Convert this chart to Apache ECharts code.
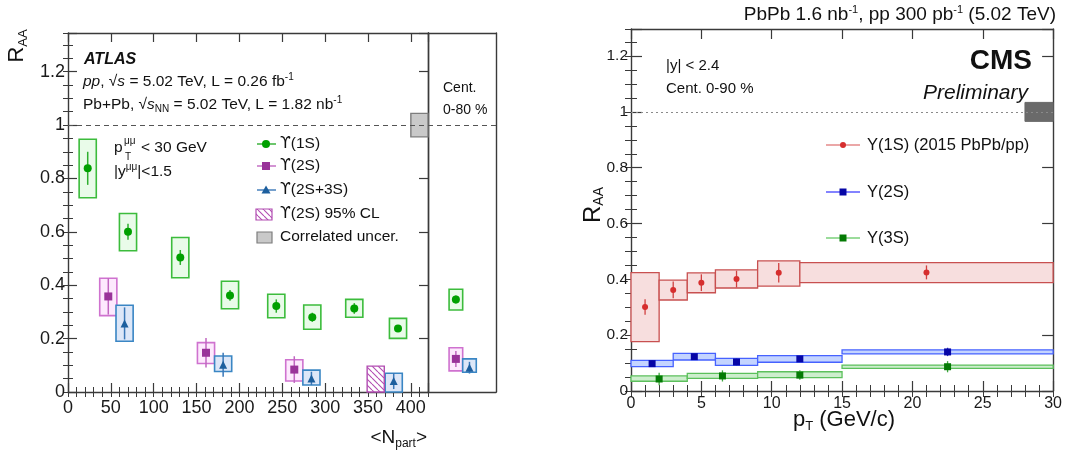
<!DOCTYPE html>
<html>
<head>
<meta charset="utf-8">
<script src="https://cdn.jsdelivr.net/npm/echarts/dist/echarts.min.js"></script>
<style>
html, body { margin: 0; padding: 0; background: #fff; }
#c { width: 1065px; height: 459px; }
</style>
</head>
<body>
<div id="c"></div>
<script>
// ---------- ATLAS: R_AA versus <Npart> ----------
const npart1S  = [23, 70, 131, 189, 243, 285, 334, 385];
const raa1S    = [0.838, 0.600, 0.504, 0.362, 0.322, 0.280, 0.313, 0.238];
const stat1S   = [0.062, 0.030, 0.028, 0.020, 0.025, 0.017, 0.020, 0.013];
const sysLo1S  = [0.728, 0.529, 0.428, 0.312, 0.278, 0.235, 0.280, 0.201];
const sysHi1S  = [0.947, 0.669, 0.579, 0.415, 0.366, 0.326, 0.347, 0.276];

const npart2S  = [47, 161, 264];
const raa2S    = [0.358, 0.147, 0.084];
const stat2S   = [0.068, 0.055, 0.050];
const sysLo2S  = [0.286, 0.107, 0.041];
const sysHi2S  = [0.426, 0.185, 0.121];

const npart23S = [66, 181, 284, 380];
const raa23S   = [0.257, 0.102, 0.051, 0.041];
const stat23S  = [0.060, 0.045, 0.025, 0.030];
const sysLo23S = [0.190, 0.077, 0.026, 0.000];
const sysHi23S = [0.325, 0.135, 0.082, 0.070];

// 95% CL upper limit for Y(2S) in the most central bin
const limitNpart2S = [359];
const limitRaa2S   = [0.097];

// correlated (global) uncertainty around unity
const corrUncAtlas = 0.044;

// centrality-integrated (0-80 %) results
const intState  = ['1S', '2S', '2S+3S'];
const intPos    = [4.1, 4.1, 6.1];
const intRaa    = [0.347, 0.124, 0.091];
const intStat   = [0.015, 0.030, 0.022];
const intSysLo  = [0.307, 0.079, 0.074];
const intSysHi  = [0.385, 0.166, 0.124];

// ---------- CMS: R_AA versus pT ----------
const pt1S     = [1, 3, 5, 7.5, 10.5, 21];
const binLo1S  = [0, 2, 4, 6, 9, 12];
const binHi1S  = [2, 4, 6, 9, 12, 30];
const cms1S    = [0.301, 0.362, 0.388, 0.401, 0.424, 0.425];
const cmsStat1S= [0.028, 0.030, 0.030, 0.030, 0.035, 0.025];
const cmsLo1S  = [0.177, 0.326, 0.352, 0.369, 0.376, 0.388];
const cmsHi1S  = [0.424, 0.397, 0.423, 0.434, 0.466, 0.460];

const pt2S     = [1.5, 4.5, 7.5, 12, 22.5];
const binLo2S  = [0, 3, 6, 9, 15];
const binHi2S  = [3, 6, 9, 15, 30];
const cms2S    = [0.098, 0.123, 0.104, 0.115, 0.140];
const cmsStat2S= [0.012, 0.010, 0.012, 0.010, 0.015];
const cmsLo2S  = [0.087, 0.111, 0.092, 0.103, 0.133];
const cmsHi2S  = [0.110, 0.135, 0.117, 0.127, 0.147];

const pt3S     = [2, 6.5, 12, 22.5];
const binLo3S  = [0, 4, 9, 15];
const binHi3S  = [4, 9, 15, 30];
const cms3S    = [0.043, 0.054, 0.057, 0.087];
const cmsStat3S= [0.022, 0.020, 0.017, 0.020];
const cmsLo3S  = [0.035, 0.045, 0.048, 0.081];
const cmsHi3S  = [0.054, 0.063, 0.069, 0.093];

const corrUncCms = 0.034;

// ---------- styling ----------
const FF = '"Liberation Sans", Arial, Helvetica, sans-serif';
const FRAME = '#3a3a3a';
const BOX_HW = 10;      // half width of ATLAS systematic boxes, in Npart units
const INT_HW = 1.0;     // half width of boxes in the integrated panel

const zip3 = (xs, ys, es) => xs.map((x, i) => [x, ys[i] - es[i], ys[i] + es[i]]);
const pts  = (xs, ys) => xs.map((x, i) => [x, ys[i]]);

// ---------- axes ----------
const xAxis = [], yAxis = [];
const isMult = (v, s) => Math.abs(v / s - Math.round(v / s)) < 1e-6;
const fmt = v => String(+v.toFixed(3));

function addAxis(list, grid, pos, min, max, major, minor, majLen, minLen, label) {
  const common = { type: 'value', gridIndex: grid, position: pos, min, max, splitLine: { show: false } };
  const idx = list.length;
  list.push(Object.assign({}, common, {
    interval: major,
    axisLine: { show: true, onZero: false, lineStyle: { color: FRAME, width: 1.4 } },
    axisTick: { show: majLen > 0, inside: true, length: majLen, lineStyle: { color: FRAME, width: 1.2 } },
    axisLabel: label
      ? Object.assign({ show: true, formatter: v => (isMult(v, major) ? fmt(v) : '') }, label)
      : { show: false }
  }));
  if (minor) {
    list.push(Object.assign({}, common, {
      interval: minor,
      axisLine: { show: false },
      axisTick: { show: true, inside: true, length: minLen, lineStyle: { color: FRAME, width: 1 } },
      axisLabel: { show: false }
    }));
  }
  return idx;
}

const atlasLabX = { fontSize: 18, fontFamily: FF, color: '#1a1a1a', margin: 7 };
const atlasLabY = { fontSize: 18, fontFamily: FF, color: '#1a1a1a', margin: 3 };
const cmsLabX   = { fontSize: 16, fontFamily: FF, color: '#1a1a1a', margin: 5 };
const cmsLabY   = { fontSize: 15.5, fontFamily: FF, color: '#1a1a1a', margin: 3 };

const Y_MAX_A = 1.345, Y_MAX_C = 1.297;

// grid 0: ATLAS centrality dependence
const ax0 = addAxis(xAxis, 0, 'bottom', 0, 420, 50, 10, 9, 5, atlasLabX);
addAxis(xAxis, 0, 'top', 0, 420, 50, 10, 9, 5, null);
const ay0 = addAxis(yAxis, 0, 'left', 0, Y_MAX_A, 0.2, 0.05, 9, 5, atlasLabY);
addAxis(yAxis, 0, 'right', 0, Y_MAX_A, 0.2, 0.05, 9, 5, null);

// grid 1: ATLAS integrated panel (frame only)
const ax1 = addAxis(xAxis, 1, 'bottom', 0, 10, 10, 0, 0, 0, null);
addAxis(xAxis, 1, 'top', 0, 10, 10, 0, 0, 0, null);
const ay1 = addAxis(yAxis, 1, 'left', 0, Y_MAX_A, 0.2, 0, 0, 0, null);
addAxis(yAxis, 1, 'right', 0, Y_MAX_A, 0.2, 0, 0, 0, null);

// grid 2: CMS pT dependence
const ax2 = addAxis(xAxis, 2, 'bottom', 0, 30, 5, 1, 10, 6, cmsLabX);
addAxis(xAxis, 2, 'top', 0, 30, 5, 1, 10, 6, null);
const ay2 = addAxis(yAxis, 2, 'left', 0, Y_MAX_C, 0.2, 0.05, 11, 6, cmsLabY);
addAxis(yAxis, 2, 'right', 0, Y_MAX_C, 0.2, 0.05, 11, 6, null);

// ---------- series builders ----------
function boxes(xi, yi, data, fill, stroke, lw, z) {
  return {
    type: 'custom', xAxisIndex: xi, yAxisIndex: yi, data, silent: true, z: z || 2,
    renderItem(params, api) {
      const a = api.coord([api.value(0), api.value(3)]);
      const b = api.coord([api.value(1), api.value(2)]);
      return {
        type: 'rect',
        shape: { x: a[0], y: a[1], width: b[0] - a[0], height: b[1] - a[1] },
        style: { fill, stroke, lineWidth: lw }
      };
    }
  };
}
function errBars(xi, yi, data, color, lw) {
  return {
    type: 'custom', xAxisIndex: xi, yAxisIndex: yi, data, silent: true, z: 3,
    renderItem(params, api) {
      const a = api.coord([api.value(0), api.value(1)]);
      const b = api.coord([api.value(0), api.value(2)]);
      return {
        type: 'line',
        shape: { x1: a[0], y1: a[1], x2: b[0], y2: b[1] },
        style: { stroke: color, lineWidth: lw }
      };
    }
  };
}
function markers(xi, yi, data, symbol, size, color, extra) {
  return Object.assign({
    type: 'scatter', xAxisIndex: xi, yAxisIndex: yi, data, symbol, symbolSize: size,
    itemStyle: { color, opacity: 1 }, silent: true, z: 4, animation: false
  }, extra || {});
}
const boxData = (xs, lo, hi, hw) => xs.map((x, i) => [x - hw, x + hw, lo[i], hi[i]]);
const binData = (l, h, lo, hi) => l.map((x, i) => [x, h[i], lo[i], hi[i]]);

// hatch pattern for the upper-limit box
const hatch = document.createElement('canvas');
hatch.width = 6; hatch.height = 6;
(function () {
  const g = hatch.getContext('2d');
  g.fillStyle = '#fff'; g.fillRect(0, 0, 6, 6);
  g.strokeStyle = '#b24db2'; g.lineWidth = 1.1;
  g.beginPath();
  for (let k = -1; k <= 1; k++) { g.moveTo(k * 6, 0); g.lineTo(k * 6 + 6, 6); }
  g.stroke();
})();

const unityDash = (from, to, color, dash) => ({
  silent: true, symbol: 'none', label: { show: false }, animation: false,
  lineStyle: { type: dash, color, width: 1.1 },
  data: from === null ? [{ yAxis: 1 }] : [[{ coord: [from, 1] }, { coord: [to, 1] }]]
});

// ATLAS colours
const G = { fill: '#e9fbe9', stroke: '#3cbc3c', mark: '#00a000', err: '#2fae2f' };
const M = { fill: '#fde9fd', stroke: '#cf72cf', mark: '#993399', err: '#c066c0' };
const B = { fill: '#dde7f8', stroke: '#3a86c4', mark: '#1d5f9e', err: '#3a78b8' };
// CMS colours
const R  = { fill: '#f7dede', stroke: '#c85050', mark: '#d62e2e', err: '#d04040' };
const BL = { fill: '#c4d4ff', stroke: '#4662ff', mark: '#0606a6', err: '#3030c8' };
const GR = { fill: '#cdeecd', stroke: '#5cc05c', mark: '#047a04', err: '#3fa83f' };

const series = [
  // --- ATLAS centrality dependence ---
  boxes(ax0, ay0, [[400, 420, 1 - corrUncAtlas, 1 + corrUncAtlas]], '#c9c9c9', '#7d7d7d', 1.4, 1),
  boxes(ax0, ay0, boxData(npart1S, sysLo1S, sysHi1S, BOX_HW), G.fill, G.stroke, 1.6),
  boxes(ax0, ay0, boxData(npart2S, sysLo2S, sysHi2S, BOX_HW), M.fill, M.stroke, 1.6),
  boxes(ax0, ay0, boxData(npart23S, sysLo23S, sysHi23S, BOX_HW), B.fill, B.stroke, 1.6),
  boxes(ax0, ay0, limitNpart2S.map((n, i) => [n - BOX_HW, n + BOX_HW, 0, limitRaa2S[i]]),
        { image: hatch, repeat: 'repeat' }, '#b24db2', 1.4),
  errBars(ax0, ay0, zip3(npart1S, raa1S, stat1S), G.err, 1.5),
  errBars(ax0, ay0, zip3(npart2S, raa2S, stat2S), M.err, 1.5),
  errBars(ax0, ay0, zip3(npart23S, raa23S, stat23S), B.err, 1.5),
  markers(ax0, ay0, pts(npart1S, raa1S), 'circle', 8, G.mark,
          { markLine: unityDash(null, null, '#555', [5, 4]) }),
  markers(ax0, ay0, pts(npart2S, raa2S), 'rect', 8, M.mark),
  markers(ax0, ay0, pts(npart23S, raa23S), 'triangle', 8, B.mark),

  // --- ATLAS integrated ---
  boxes(ax1, ay1, [[intPos[0] - INT_HW, intPos[0] + INT_HW, intSysLo[0], intSysHi[0]]], G.fill, G.stroke, 1.6),
  boxes(ax1, ay1, [[intPos[1] - INT_HW, intPos[1] + INT_HW, intSysLo[1], intSysHi[1]]], M.fill, M.stroke, 1.6),
  boxes(ax1, ay1, [[intPos[2] - INT_HW, intPos[2] + INT_HW, intSysLo[2], intSysHi[2]]], B.fill, B.stroke, 1.6),
  errBars(ax1, ay1, [[intPos[0], intRaa[0] - intStat[0], intRaa[0] + intStat[0]]], G.err, 1.5),
  errBars(ax1, ay1, [[intPos[1], intRaa[1] - intStat[1], intRaa[1] + intStat[1]]], M.err, 1.5),
  errBars(ax1, ay1, [[intPos[2], intRaa[2] - intStat[2], intRaa[2] + intStat[2]]], B.err, 1.5),
  markers(ax1, ay1, [[intPos[0], intRaa[0]]], 'circle', 8, G.mark,
          { markLine: unityDash(null, null, '#555', [5, 4]) }),
  markers(ax1, ay1, [[intPos[1], intRaa[1]]], 'rect', 8, M.mark),
  markers(ax1, ay1, [[intPos[2], intRaa[2]]], 'triangle', 8, B.mark),

  // --- CMS pT dependence ---
  boxes(ax2, ay2, [[28, 30, 1 - corrUncCms, 1 + corrUncCms]], '#6a6a6a', '#6a6a6a', 1, 1),
  boxes(ax2, ay2, binData(binLo1S, binHi1S, cmsLo1S, cmsHi1S), R.fill, R.stroke, 1.3),
  boxes(ax2, ay2, binData(binLo2S, binHi2S, cmsLo2S, cmsHi2S), BL.fill, BL.stroke, 1.3),
  boxes(ax2, ay2, binData(binLo3S, binHi3S, cmsLo3S, cmsHi3S), GR.fill, GR.stroke, 1.3),
  errBars(ax2, ay2, zip3(pt1S, cms1S, cmsStat1S), R.err, 1.3),
  errBars(ax2, ay2, zip3(pt2S, cms2S, cmsStat2S), BL.err, 1.3),
  errBars(ax2, ay2, zip3(pt3S, cms3S, cmsStat3S), GR.err, 1.3),
  markers(ax2, ay2, pts(pt1S, cms1S), 'circle', 6, R.mark,
          { markLine: unityDash(0, 30, '#8a8a8a', [2, 3]) }),
  markers(ax2, ay2, pts(pt2S, cms2S), 'rect', 7, BL.mark),
  markers(ax2, ay2, pts(pt3S, cms3S), 'rect', 7, GR.mark)
];

// ---------- text and legends ----------
const sup = s => ({ fontSize: s, fontFamily: FF, padding: [0, 0, Math.round(s * 0.9), 0] });
const sub = s => ({ fontSize: s, fontFamily: FF, padding: [Math.round(s * 0.9), 0, 0, 0] });
const it  = s => ({ fontSize: s, fontFamily: FF, fontStyle: 'italic' });
const ups = s => ({ fontSize: s, fontFamily: '"DejaVu Sans", sans-serif' });

function txt(x, y, text, size, extra, rot) {
  return {
    type: 'text', x, y, rotation: rot || 0, silent: true, z: 100,
    style: Object.assign({
      text, fontSize: size, fontFamily: FF, fill: '#111',
      textAlign: 'left', textVerticalAlign: 'middle'
    }, extra || {})
  };
}
const line = (x1, y1, x2, y2, c, w) => ({ type: 'line', silent: true, z: 100, shape: { x1, y1, x2, y2 }, style: { stroke: c, lineWidth: w || 1.4 } });
const circ = (cx, cy, r, c) => ({ type: 'circle', silent: true, z: 101, shape: { cx, cy, r }, style: { fill: c } });
const sq = (cx, cy, h, c, stroke) => ({ type: 'rect', silent: true, z: 101, shape: { x: cx - h, y: cy - h, width: 2 * h, height: 2 * h }, style: { fill: c, stroke: stroke || null } });
const tri = (cx, cy, h, c) => ({ type: 'polygon', silent: true, z: 101, shape: { points: [[cx, cy - h], [cx - h, cy + h * 0.8], [cx + h, cy + h * 0.8]] }, style: { fill: c } });

const legA = ['{g|ϒ}(1S)', '{g|ϒ}(2S)', '{g|ϒ}(2S+3S)', '{g|ϒ}(2S) 95% CL', 'Correlated uncer.'];
const legAy = [144, 166, 190, 214, 237];
const legC = ['Υ(1S) (2015 PbPb/pp)', 'Υ(2S)', 'Υ(3S)'];
const legCy = [145, 192, 238];

const graphics = [
  // ATLAS header
  txt(84, 60, 'ATLAS', 16, { fontWeight: 'bold', fontStyle: 'italic' }),
  txt(83, 82, '{i|pp}, √{i|s} = 5.02 TeV, L = 0.26 fb{u|-1}', 15.5, { rich: { i: it(15.5), u: sup(10) } }),
  txt(83, 105, 'Pb+Pb, √{i|s}{d|NN} = 5.02 TeV, L = 1.82 nb{u|-1}', 15.5, { rich: { i: it(15.5), u: sup(10), d: sub(10) } }),
  txt(114, 148, 'p', 15.5),
  txt(124, 141, 'μμ', 10),
  txt(125, 157, 'T', 10),
  txt(141, 148, '< 30 GeV', 15.5),
  txt(114, 172, '|y{u|μμ}|<1.5', 15.5, { rich: { u: sup(10) } }),
  txt(443, 88, 'Cent.', 14),
  txt(443, 110, '0-80 %', 14),
  // ATLAS axis titles
  txt(17, 46, 'R{d|AA}', 22, { textAlign: 'center', rich: { d: sub(13) } }, Math.PI / 2),
  txt(427, 438, '<N{d|part}>', 19, { textAlign: 'right', rich: { d: sub(12) } }),

  // CMS header and labels
  txt(1056, 15, 'PbPb 1.6 nb{u|-1}, pp 300 pb{u|-1} (5.02 TeV)', 19, { textAlign: 'right', rich: { u: sup(11) } }),
  txt(666, 66, '|y| < 2.4', 15),
  txt(666, 89, 'Cent. 0-90 %', 15),
  txt(1032, 61, 'CMS', 28, { textAlign: 'right', fontWeight: 'bold' }),
  txt(1028, 93, 'Preliminary', 21, { textAlign: 'right', fontStyle: 'italic' }),
  txt(593, 205, 'R{d|AA}', 24, { textAlign: 'center', rich: { d: sub(14) } }, Math.PI / 2),
  txt(844, 420, 'p{d|T} (GeV/c)', 22, { textAlign: 'center', rich: { d: sub(13) } }),

  // ATLAS legend
  line(257, legAy[0], 276, legAy[0], G.err), circ(266, legAy[0], 4, G.mark),
  line(257, legAy[1], 276, legAy[1], M.err), sq(266, legAy[1], 4, M.mark),
  line(257, legAy[2], 276, legAy[2], B.err), tri(266, legAy[2], 4.5, B.mark),
  { type: 'rect', silent: true, z: 100, shape: { x: 256, y: legAy[3] - 5, width: 16, height: 11 },
    style: { fill: { image: hatch, repeat: 'repeat' }, stroke: '#b24db2', lineWidth: 1.2 } },
  { type: 'rect', silent: true, z: 100, shape: { x: 257, y: legAy[4] - 5, width: 15, height: 11 },
    style: { fill: '#c9c9c9', stroke: '#7d7d7d', lineWidth: 1.2 } },
  ...legA.map((t, i) => txt(280, legAy[i], t, 15.5, { rich: { g: ups(15.5) } })),

  // CMS legend
  line(826, legCy[0], 860, legCy[0], '#e48a8a', 1.6), circ(843, legCy[0], 3, R.mark),
  line(826, legCy[1], 860, legCy[1], '#5a5aff', 1.6), sq(843, legCy[1], 3.5, BL.mark),
  line(826, legCy[2], 860, legCy[2], '#7ad07a', 1.6), sq(843, legCy[2], 3.5, GR.mark),
  ...legC.map((t, i) => txt(867, legCy[i], t, 16.5))
];

const chart = echarts.init(document.getElementById('c'), null, { renderer: 'canvas' });
chart.setOption({
  animation: false,
  backgroundColor: '#fff',
  grid: [
    { left: 68, top: 33, width: 360, height: 359 },
    { left: 428, top: 33, width: 68, height: 359 },
    { left: 631, top: 29, width: 425, height: 362 }
  ],
  xAxis, yAxis, series,
  graphic: graphics
});
</script>
</body>
</html>
